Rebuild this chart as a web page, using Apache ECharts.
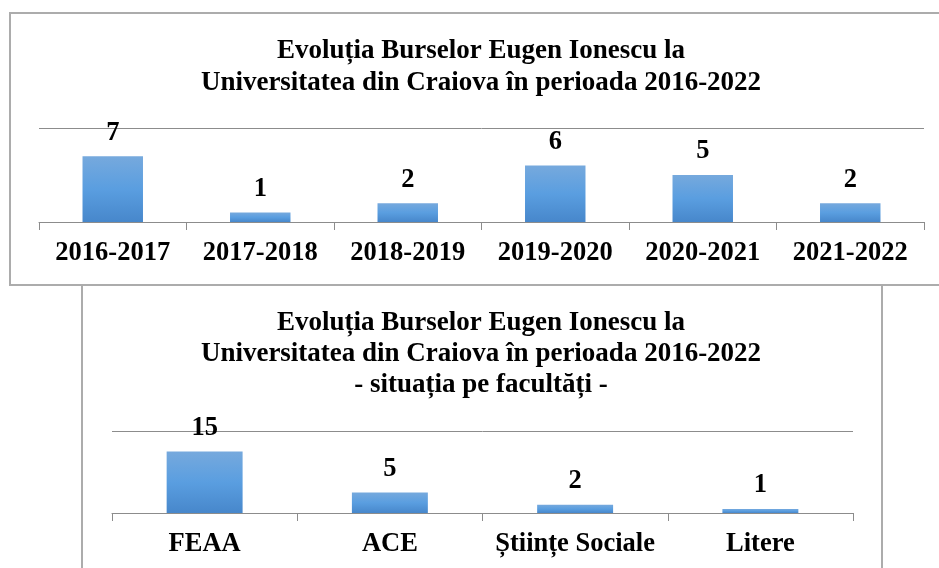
<!DOCTYPE html>
<html>
<head>
<meta charset="utf-8">
<script src="https://cdn.jsdelivr.net/npm/echarts@6/dist/echarts.min.js"></script>
<style>
  html, body { margin: 0; padding: 0; background: #fff; }
  #chart { width: 939px; height: 568px; }
</style>
</head>
<body>
<div id="chart"></div>
<script>
var years = ['2016-2017', '2017-2018', '2018-2019', '2019-2020', '2020-2021', '2021-2022'];
var yearValues = [7, 1, 2, 6, 5, 2];
var faculties = ['FEAA', 'ACE', 'Științe Sociale', 'Litere'];
var facultyValues = [15, 5, 2, 1];
var title1 = 'Evoluția Burselor Eugen Ionescu la\nUniversitatea din Craiova în perioada 2016-2022';
var title2 = 'Evoluția Burselor Eugen Ionescu la\nUniversitatea din Craiova în perioada 2016-2022\n- situația pe facultăți -';

var chart = echarts.init(document.getElementById('chart'));

var font = '"Liberation Serif", "Times New Roman", serif';
var barColor = new echarts.graphic.LinearGradient(0, 0, 0, 1, [
  { offset: 0, color: '#76a9dd' },
  { offset: 0.5, color: '#5a9ee0' },
  { offset: 1, color: '#4787cb' }
]);

function xAx(idx, data) {
  return {
    type: 'category',
    gridIndex: idx,
    data: data,
    axisLine: { lineStyle: { color: '#8c8c8c', width: 1 } },
    axisTick: { show: true, length: 8, lineStyle: { color: '#8c8c8c' } },
    axisLabel: {
      interval: 0, margin: 18, color: '#000',
      fontFamily: font, fontWeight: 'bold', fontSize: 26.5
    }
  };
}
function yAx(idx, max) {
  return {
    type: 'value',
    gridIndex: idx,
    min: 0, max: max, interval: max,
    axisLine: { show: false },
    axisTick: { show: false },
    axisLabel: { show: false },
    splitLine: { lineStyle: { color: '#8c8c8c', width: 1 } }
  };
}
function bars(idx, data) {
  return {
    type: 'bar',
    xAxisIndex: idx,
    yAxisIndex: idx,
    data: data,
    barWidth: '41%',
    itemStyle: { color: barColor },
    label: {
      show: true, position: 'top', distance: 10, color: '#000',
      fontFamily: font, fontWeight: 'bold', fontSize: 26.5
    }
  };
}

var option = {
  animation: false,
  grid: [
    { left: 39, right: 15, top: 128, height: 94 },
    { left: 112, width: 741, top: 431, height: 82 }
  ],
  xAxis: [xAx(0, years), xAx(1, faculties)],
  yAxis: [yAx(0, 10), yAx(1, 20)],
  series: [bars(0, yearValues), bars(1, facultyValues)],
  graphic: [
    {
      type: 'rect', z: -1,
      shape: { x: 10, y: 13, width: 960, height: 272 },
      style: { fill: 'none', stroke: '#acacac', lineWidth: 2 }
    },
    {
      type: 'rect', z: -1,
      shape: { x: 82, y: 285, width: 800, height: 320 },
      style: { fill: 'none', stroke: '#acacac', lineWidth: 2 }
    },
    {
      type: 'text',
      style: {
        text: title1, x: 481, y: 35, textAlign: 'center', textVerticalAlign: 'top',
        font: 'bold 27px ' + font, lineHeight: 32, fill: '#000'
      }
    },
    {
      type: 'text',
      style: {
        text: title2, x: 481, y: 308, textAlign: 'center', textVerticalAlign: 'top',
        font: 'bold 27px ' + font, lineHeight: 31, fill: '#000'
      }
    }
  ]
};

chart.setOption(option);
</script>
</body>
</html>
